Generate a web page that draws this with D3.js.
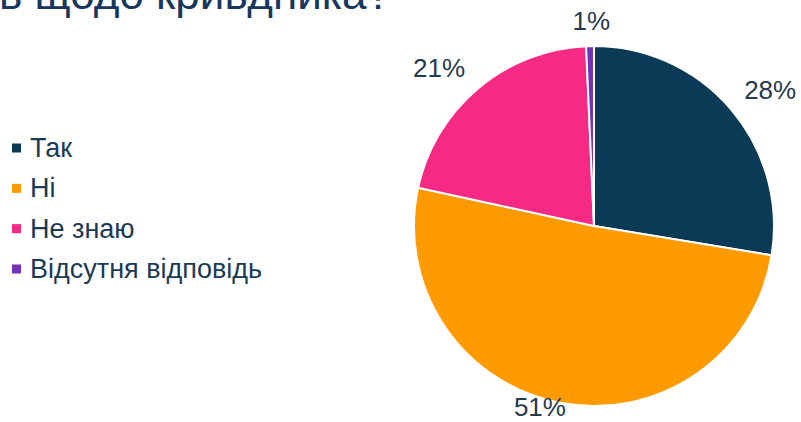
<!DOCTYPE html>
<html>
<head>
<meta charset="utf-8">
<style>
  body { margin: 0; background: #fff; }
  svg { display: block; font-family: "Liberation Sans", Arial, sans-serif; }
</style>
</head>
<body>
<div id="chart"></div>
<script src="https://cdn.jsdelivr.net/npm/d3@7"></script>
<script>
// data
const categories = ["Так", "Ні", "Не знаю", "Відсутня відповідь"];
const values = [27.6, 50.8, 20.9, 0.7];
const valueLabels = ["28%", "51%", "21%", "1%"];
const colors = ["#0b3a56", "#ff9a00", "#f62a84", "#7232b8"];
const titleText = "Чи вжито заходів щодо кривдника?";

const width = 801, height = 422;
const svg = d3.select("#chart").append("svg")
  .attr("width", width)
  .attr("height", height);

// title, cut off at the top of the frame
svg.append("text")
  .attr("x", 391)
  .attr("y", 9)
  .attr("text-anchor", "end")
  .attr("font-size", 44)
  .attr("fill", "#17375e")
  .text(titleText);

// pie
const cx = 594, cy = 226, r = 180;
const pie = d3.pie().sort(null).value(d => d);
const arc = d3.arc().innerRadius(0).outerRadius(r);
const arcs = pie(values);

const g = svg.append("g").attr("transform", `translate(${cx},${cy})`);
g.selectAll("path")
  .data(arcs)
  .join("path")
  .attr("d", arc)
  .attr("fill", (d, i) => colors[i])
  .attr("stroke", "#fff")
  .attr("stroke-width", 2);

// data labels outside the pie, nudged to where the reference puts them
const labelOffsets = [[13, 2], [-14, -29], [-17, 6], [2, 9]];
const labelArc = d3.arc().innerRadius(r + 34).outerRadius(r + 34);
g.selectAll("text.lbl")
  .data(arcs)
  .join("text")
  .attr("class", "lbl")
  .attr("x", (d, i) => labelArc.centroid(d)[0] + labelOffsets[i][0])
  .attr("y", (d, i) => labelArc.centroid(d)[1] + labelOffsets[i][1])
  .attr("text-anchor", "middle")
  .attr("dominant-baseline", "central")
  .attr("font-size", 26)
  .attr("fill", "#253a4e")
  .text((d, i) => valueLabels[i]);

// legend
const legendY = d3.scalePoint().domain(categories).range([148, 269]);
const legend = svg.append("g");
legend.selectAll("rect")
  .data(categories)
  .join("rect")
  .attr("x", 12)
  .attr("y", d => legendY(d) - 4.5)
  .attr("width", 9)
  .attr("height", 9)
  .attr("fill", (d, i) => colors[i]);
legend.selectAll("text")
  .data(categories)
  .join("text")
  .attr("x", 30)
  .attr("y", d => legendY(d))
  .attr("dominant-baseline", "central")
  .attr("font-size", 27)
  .attr("fill", "#1b3a56")
  .text(d => d);
</script>
</body>
</html>
